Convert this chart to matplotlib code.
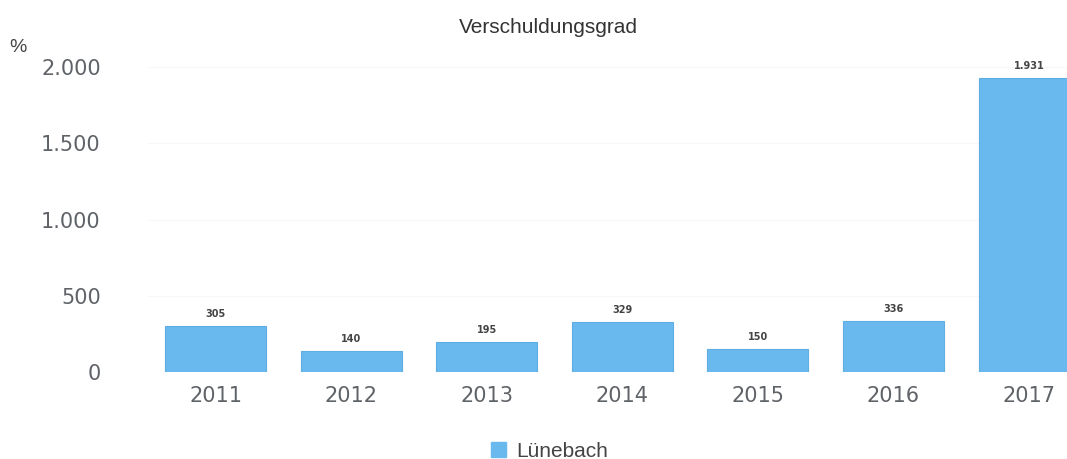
import matplotlib
matplotlib.use("Agg")
import matplotlib.pyplot as plt
from matplotlib.patches import Patch
from matplotlib.ticker import FuncFormatter

years = ["2011", "2012", "2013", "2014", "2015", "2016", "2017"]
values = [305, 140, 195, 329, 150, 336, 1931]
series_name = "Lünebach"
title = "Verschuldungsgrad"
unit = "%"
yticks = [0, 500, 1000, 1500, 2000]

def de_fmt(v):
    return f"{int(round(v)):,}".replace(",", ".")

bar_color = "#69b8ee"
text_gray = "#5f6368"

fig = plt.figure(figsize=(10.67, 4.59), dpi=100)
ax = fig.add_axes([0.1387, 0.1895, 0.8613, 0.6977])

x = list(range(len(years)))
bars = ax.bar(x, values, width=0.745, color=bar_color, edgecolor="#5eaee6", linewidth=0.8, zorder=2)
ax.bar_label(bars, labels=[de_fmt(v) for v in values], padding=5,
             fontsize=7, fontweight="bold", color="#444444", family="DejaVu Sans")

ax.set_xlim(-0.5, 6.28)
ax.set_ylim(0, 2100)
ax.set_xticks(x)
ax.set_xticklabels(years)
ax.set_yticks(yticks)
ax.yaxis.set_major_formatter(FuncFormatter(lambda v, p: de_fmt(v)))
ax.tick_params(axis="y", length=0, pad=34, labelsize=15, labelcolor=text_gray)
ax.tick_params(axis="x", length=0, pad=10, labelsize=15, labelcolor=text_gray)
ax.grid(axis="y", color="#f7f7f7", linewidth=0.8, zorder=0)
for s in ax.spines.values():
    s.set_visible(False)

fig.text(0.514, 0.94, title, ha="center", va="center", fontsize=15,
         family="Liberation Sans", color="#333333")
fig.text(0.009, 0.897, unit, ha="left", va="center", fontsize=14,
         family="Liberation Sans", color="#444444")

fig.legend(handles=[Patch(facecolor=bar_color, edgecolor=bar_color)], labels=[series_name],
           loc="center", bbox_to_anchor=(0.515, 0.017), frameon=False,
           prop={"family": "Liberation Sans", "size": 15}, labelcolor="#444444",
           handlelength=0.7, handleheight=0.7, handletextpad=0.5)

fig.savefig("out.png", dpi=100)
